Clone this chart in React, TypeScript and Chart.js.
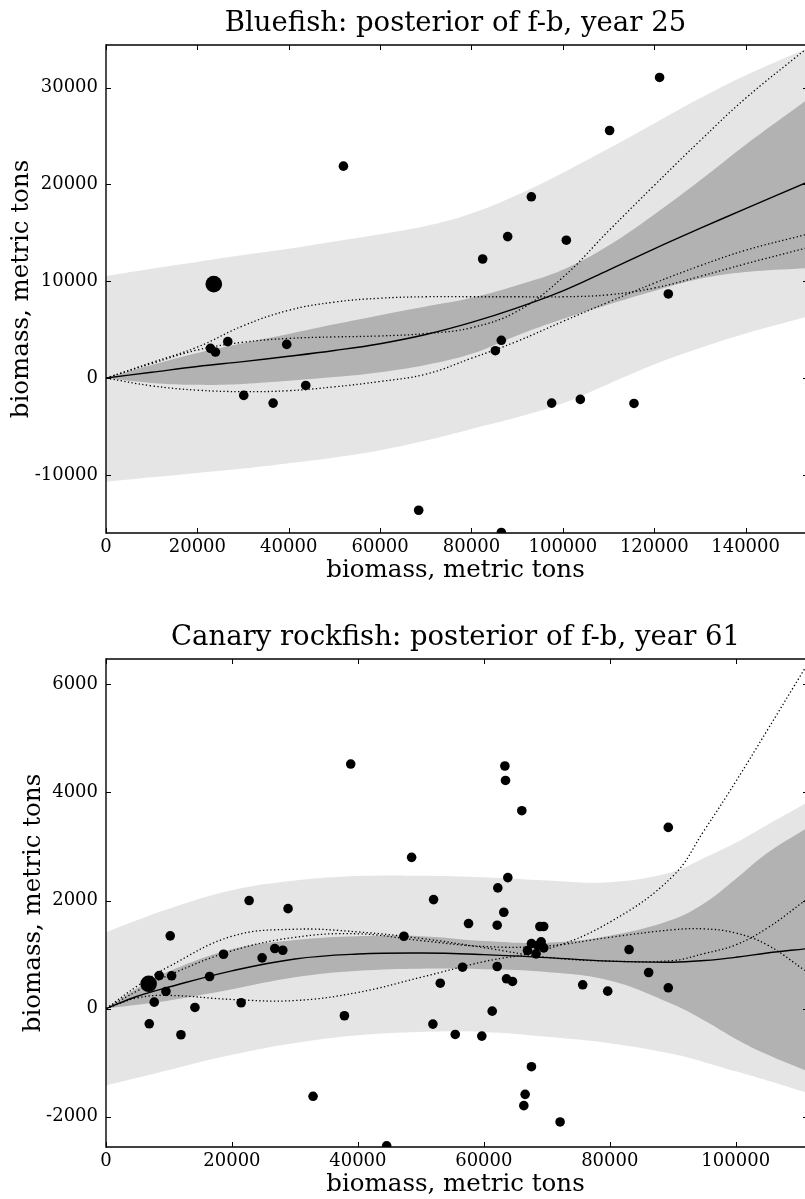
import React, { useEffect, useRef } from "react";
import { Chart, registerables } from "chart.js";

Chart.register(...registerables);

const FONT = "'DejaVu Serif', serif";
const LIGHT = "#e5e5e5";
const DARK = "#b2b2b2";

// ---------- Bluefish, year 25 ----------
const bfTicksX = [0, 20000, 40000, 60000, 80000, 100000, 120000, 140000];
const bfTicksY = [-10000, 0, 10000, 20000, 30000];
const bfGridX = [0, 10000, 20000, 30000, 40000, 50000, 60000, 70000, 80000, 90000, 100000, 110000, 120000, 130000, 140000, 153000];
const bfOuterUpper = [10550, 11300, 12000, 12700, 13350, 14100, 14850, 15700, 17000, 18900, 21200, 23700, 26300, 28900, 31250, 33950];
const bfOuterLower = [-10700, -10250, -9800, -9350, -8800, -8200, -7450, -6450, -5250, -4050, -2600, -600, 1400, 3100, 4600, 6270];
const bfInnerUpper = [0, 1350, 2600, 3600, 4550, 5550, 6500, 7400, 8300, 9600, 11200, 13700, 16900, 20400, 24100, 28600];
const bfInnerLower = [0, -500, -700, -600, -280, 100, 600, 1350, 2500, 4400, 6100, 7600, 9000, 10250, 10950, 11340];
const bfMean = [0, 600, 1200, 1700, 2250, 2850, 3550, 4500, 5750, 7250, 9000, 11150, 13350, 15450, 17500, 20130];
const bfDrawA = [0, 1500, 2900, 3700, 4100, 4250, 4350, 4600, 5200, 6900, 10400, 15200, 19900, 24500, 28900, 33900];
const bfDrawB = [0, 1600, 3200, 5400, 7000, 7850, 8250, 8400, 8400, 8400, 8400, 8600, 9300, 10500, 11800, 13400];
const bfDrawC = [0, -800, -1250, -1400, -1300, -900, -350, 400, 2050, 3800, 5850, 7850, 9800, 11600, 13200, 14800];
const bfObsX = [22860, 23960, 26660, 39560, 30150, 36580, 43720, 51970, 68440, 82450, 85220, 86530, 87920, 93100, 97550, 100760, 103820, 110230, 115570, 121170, 123080, 86530];
const bfObsY = [3070, 2690, 3760, 3480, -1790, -2585, -760, 21890, -13650, 12300, 2830, 3900, 14610, 18720, -2585, 14240, -2200, 25570, -2620, 31050, 8690, -15950];
const bfLatestX = [23590];
const bfLatestY = [9700];

// ---------- Canary rockfish, year 61 ----------
const crTicksX = [0, 20000, 40000, 60000, 80000, 100000];
const crTicksY = [-2000, 0, 2000, 4000, 6000];
const crGridX = [0, 5000, 10000, 20000, 30000, 40000, 50000, 60000, 70000, 80000, 90000, 95000, 100000, 105000, 111000];
const crOuterUpper = [1414, 1640, 1850, 2190, 2370, 2455, 2460, 2430, 2370, 2340, 2530, 2790, 3070, 3400, 3790];
const crOuterLower = [-1420, -1280, -1135, -855, -635, -490, -430, -430, -520, -640, -840, -990, -1160, -1330, -1543];
const crInnerUpper = [0, 380, 690, 1100, 1270, 1340, 1340, 1250, 1220, 1350, 1650, 1950, 2400, 2880, 3320];
const crInnerLower = [0, 70, 150, 360, 580, 700, 740, 730, 680, 520, 80, -220, -560, -850, -1140];
const crMean = [0, 230, 400, 700, 920, 1010, 1030, 1000, 945, 880, 860, 890, 950, 1030, 1107];
const crDrawA = [0, 200, 245, 170, 150, 300, 580, 870, 1100, 1600, 2450, 3300, 4200, 5150, 6300];
const crDrawB = [0, 330, 620, 1070, 1320, 1385, 1260, 1150, 1160, 1320, 1460, 1476, 1400, 1180, 706];
const crDrawC = [0, 420, 780, 1340, 1470, 1420, 1300, 1130, 950, 880, 890, 1020, 1180, 1490, 2000];
const crObsX = [10200, 8450, 10420, 9520, 7660, 6870, 11900, 14120, 16450, 18660, 21460, 24790, 26800, 28070, 28910, 22730, 32880, 37860, 38860, 44570, 47310, 48530, 51910, 52020, 53080, 55460, 56620, 57570, 59680, 61330, 62120, 62120, 62220, 63170, 63340, 63440, 63600, 63810, 64550, 66030, 66350, 66560, 66930, 67560, 67560, 68300, 68570, 68900, 69100, 69500, 69520, 72110, 75700, 79670, 83060, 86170, 89290, 89290];
const crObsY = [1347, 613, 608, 318, 120, -280, -483, 22, 595, 1007, 109, 940, 1112, 1081, 1850, 2000, -1622, -131, 4526, -2540, 1340, 2800, -286, 2018, 471, -477, 767, 1575, -508, -46, 1544, 780, 2234, 1784, 4490, 4223, 552, 2425, 503, 3663, -1795, -1586, 1075, 1205, -1074, 1014, 1168, 1520, 1236, 1520, 1125, -2097, 441, 324, 1094, 669, 3354, 386];
const crLatestX = [6770];
const crLatestY = [460];

const pts = (xs: number[], ys: number[]) => xs.map((x, i) => ({ x, y: ys[i] }));

// Inward ticks on all four sides plus the left, top and bottom spines.
const framePlugin = {
  id: "frame",
  afterDatasetsDraw(chart: any) {
    const { ctx, chartArea, scales } = chart;
    const { left, top, right, bottom } = chartArea;
    const xs = scales.x;
    const ys = scales.y;
    ctx.save();
    ctx.strokeStyle = "#000";
    ctx.lineWidth = 1;
    const seg = (x1: number, y1: number, x2: number, y2: number) => {
      ctx.beginPath();
      ctx.moveTo(x1, y1);
      ctx.lineTo(x2, y2);
      ctx.stroke();
    };
    for (const t of xs.ticks) {
      const px = Math.round(xs.getPixelForValue(t.value)) + 0.5;
      seg(px, bottom, px, bottom - 5);
      seg(px, top, px, top + 5);
    }
    for (const t of ys.ticks) {
      const py = Math.round(ys.getPixelForValue(t.value)) + 0.5;
      seg(left, py, left + 5, py);
      seg(right - 2, py, right, py);
    }
    ctx.lineWidth = 1.4;
    seg(left, top, right, top);
    seg(left, bottom, right, bottom);
    seg(left, top - 0.7, left, bottom + 0.7);
    ctx.restore();
  },
};

type Spec = {
  title: string;
  ticksX: number[];
  ticksY: number[];
  gridX: number[];
  outerUpper: number[];
  outerLower: number[];
  innerUpper: number[];
  innerLower: number[];
  mean: number[];
  draws: number[][];
  obsX: number[];
  obsY: number[];
  latestX: number[];
  latestY: number[];
  xMax: number;
  yMin: number;
  yMax: number;
  yTitlePad: number;
};

function makeConfig(s: Spec): any {
  const band = (data: number[], fill: any, color: string, order: number) => ({
    data: pts(s.gridX, data),
    showLine: true,
    borderWidth: 0,
    borderColor: "rgba(0,0,0,0)",
    backgroundColor: color,
    pointRadius: 0,
    tension: 0.4,
    fill,
    order,
  });
  const curve = (data: number[], dash: number[], width: number) => ({
    data: pts(s.gridX, data),
    showLine: true,
    borderColor: "#000",
    borderWidth: width,
    borderDash: dash,
    pointRadius: 0,
    tension: 0.4,
    fill: false,
    order: 4,
  });
  return {
    type: "scatter",
    data: {
      datasets: [
        band(s.outerUpper, "+1", LIGHT, 10),
        band(s.outerLower, false, LIGHT, 10),
        band(s.innerUpper, "+1", DARK, 9),
        band(s.innerLower, false, DARK, 9),
        curve(s.mean, [], 1.4),
        ...s.draws.map((d) => curve(d, [1.3, 2.4], 1.3)),
        {
          data: pts(s.obsX, s.obsY),
          pointRadius: 4.8,
          pointBackgroundColor: "#000",
          pointBorderWidth: 0,
          order: 1,
        },
        {
          data: pts(s.latestX, s.latestY),
          pointRadius: 8.3,
          pointBackgroundColor: "#000",
          pointBorderWidth: 0,
          order: 1,
        },
      ],
    },
    options: {
      animation: false,
      responsive: false,
      devicePixelRatio: 1,
      events: [],
      layout: { autoPadding: false, padding: { left: 0, right: 0, top: 0, bottom: 0 } },
      plugins: {
        legend: { display: false },
        tooltip: { enabled: false },
        title: {
          display: true,
          text: s.title,
          fullSize: false,
          color: "#000",
          font: { family: FONT, size: 27.5, weight: "normal" },
          padding: { top: 7, bottom: 5 },
        },
      },
      scales: {
        x: {
          type: "linear",
          min: 0,
          max: s.xMax,
          grid: { display: false, drawTicks: false },
          border: { display: false },
          afterBuildTicks: (scale: any) => {
            scale.ticks = s.ticksX.map((value) => ({ value }));
          },
          ticks: {
            autoSkip: false,
            maxRotation: 0,
            padding: 4,
            color: "#000",
            font: { family: FONT, size: 18 },
            callback: (v: number) => String(v),
          },
          title: {
            display: true,
            text: "biomass, metric tons",
            color: "#000",
            font: { family: FONT, size: 24.5 },
            padding: { top: 0, bottom: 0.5 },
          },
          afterFit: (scale: any) => {
            scale.height = 53;
          },
        },
        y: {
          type: "linear",
          min: s.yMin,
          max: s.yMax,
          grid: { display: false, drawTicks: false },
          border: { display: false },
          afterBuildTicks: (scale: any) => {
            scale.ticks = s.ticksY.map((value) => ({ value }));
          },
          ticks: {
            autoSkip: false,
            padding: 8,
            color: "#000",
            font: { family: FONT, size: 18 },
            callback: (v: number) => String(v),
          },
          title: {
            display: true,
            text: "biomass, metric tons",
            color: "#000",
            font: { family: FONT, size: 24.5 },
            padding: { top: s.yTitlePad, bottom: 0 },
          },
          afterFit: (scale: any) => {
            scale.width = 106;
          },
        },
      },
    },
    plugins: [framePlugin],
  };
}

const bluefish: Spec = {
  title: "Bluefish: posterior of f-b, year 25",
  ticksX: bfTicksX,
  ticksY: bfTicksY,
  gridX: bfGridX,
  outerUpper: bfOuterUpper,
  outerLower: bfOuterLower,
  innerUpper: bfInnerUpper,
  innerLower: bfInnerLower,
  mean: bfMean,
  draws: [bfDrawA, bfDrawB, bfDrawC],
  obsX: bfObsX,
  obsY: bfObsY,
  latestX: bfLatestX,
  latestY: bfLatestY,
  xMax: 153000,
  yMin: -16000,
  yMax: 34400,
  yTitlePad: 7,
};

const canary: Spec = {
  title: "Canary rockfish: posterior of f-b, year 61",
  ticksX: crTicksX,
  ticksY: crTicksY,
  gridX: crGridX,
  outerUpper: crOuterUpper,
  outerLower: crOuterLower,
  innerUpper: crInnerUpper,
  innerLower: crInnerLower,
  mean: crMean,
  draws: [crDrawA, crDrawB, crDrawC],
  obsX: crObsX,
  obsY: crObsY,
  latestX: crLatestX,
  latestY: crLatestY,
  xMax: 111000,
  yMin: -2560,
  yMax: 6470,
  yTitlePad: 19,
};

function FishPanel({ spec, top }: { spec: Spec; top: number }) {
  const ref = useRef<HTMLCanvasElement>(null);
  useEffect(() => {
    const chart = new Chart(ref.current as HTMLCanvasElement, makeConfig(spec));
    return () => chart.destroy();
  }, [spec]);
  return (
    <canvas
      ref={ref}
      width={805}
      height={586}
      style={{ position: "absolute", left: 0, top, width: 805, height: 586 }}
    />
  );
}

export default function App() {
  return (
    <div
      style={{
        position: "fixed",
        left: 0,
        top: 0,
        width: 805,
        height: 1199,
        background: "#fff",
        overflow: "hidden",
      }}
    >
      <FishPanel spec={bluefish} top={0} />
      <FishPanel spec={canary} top={614} />
    </div>
  );
}
